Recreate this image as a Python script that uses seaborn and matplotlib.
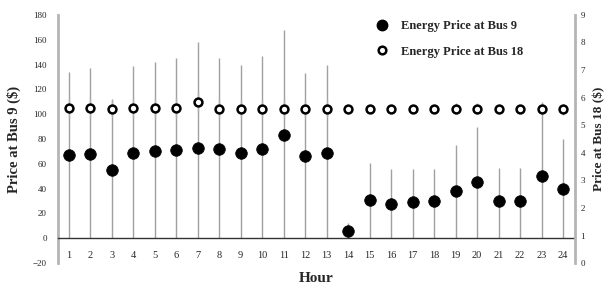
import pandas as pd
import seaborn as sns
import matplotlib.pyplot as plt

horas = list(range(1, 25))
preco_bus9 = [67, 68, 55, 69, 70, 71, 73, 72, 69, 72, 83, 66,
              69, 6, 31, 28, 29, 30, 38, 45, 30, 30, 50, 40]
erro_bus9 = [67, 69, 57, 70, 72, 74, 85, 73, 71, 75, 85, 67,
             71, 6, 30, 28, 27, 26, 37, 45, 27, 27, 60, 40]
preco_bus18 = [5.62, 5.62, 5.60, 5.62, 5.62, 5.62, 5.85, 5.60, 5.60, 5.60, 5.60, 5.60,
               5.60, 5.58, 5.58, 5.58, 5.58, 5.58, 5.60, 5.60, 5.58, 5.58, 5.60, 5.58]
erro_bus18 = [0.35, 0.35, 0.3, 0.35, 0.35, 0.35, 0.4, 0.35, 0.3, 0.3, 0.35, 0.3,
              0.3, 0.1, 0.1, 0.1, 0.1, 0.1, 0.2, 0.2, 0.1, 0.1, 0.2, 0.2]

df = pd.DataFrame({"Hora": horas, "Bus9": preco_bus9, "Bus18": preco_bus18})

sns.set_style("white")
plt.rcParams["font.family"] = ["Liberation Serif", "DejaVu Serif"]

fig = plt.figure(figsize=(6.06, 2.86), dpi=100)
ax = fig.add_axes([0.0957, 0.080, 0.853, 0.868])
ax2 = ax.twinx()

# barras de erro
ax.errorbar(horas, preco_bus9, yerr=[preco_bus9, erro_bus9], fmt="none",
            ecolor="#a0a0a0", elinewidth=1.0, capsize=0, zorder=1)
ax2.errorbar(horas, preco_bus18, yerr=erro_bus18, fmt="none",
             ecolor="#b0b0b0", elinewidth=1.0, capsize=0, zorder=1)

sns.scatterplot(data=df, x="Hora", y="Bus9", ax=ax, color="black", s=70,
                edgecolor="black", linewidth=0.5, zorder=3, legend=False)
sns.scatterplot(data=df, x="Hora", y="Bus18", ax=ax2, color="white", s=32,
                edgecolor="black", linewidth=1.8, zorder=3, legend=False)

ax.set_xlim(0.5, 24.55)
ax.set_ylim(-20, 180)
ax2.set_ylim(0, 9)
ax.set_xticks(horas)
ax.set_yticks(range(-20, 181, 20))
ax2.set_yticks(range(0, 10))

for a in (ax, ax2):
    for s in a.spines.values():
        s.set_visible(False)
ax.spines["left"].set_visible(True)
ax.spines["left"].set_color("#b5b5b5")
ax.spines["left"].set_linewidth(2)
ax2.spines["right"].set_visible(True)
ax2.spines["right"].set_color("#b5b5b5")
ax2.spines["right"].set_linewidth(2)
ax.spines["bottom"].set_visible(True)
ax.spines["bottom"].set_position(("data", 0))
ax.spines["bottom"].set_color("#333333")
ax.spines["bottom"].set_linewidth(1)

ax.tick_params(axis="x", length=0, pad=9, labelsize=7.5)
ax.tick_params(axis="y", length=0, pad=8, labelsize=6.5)
ax2.tick_params(axis="y", length=0, pad=4, labelsize=6.5)

ax.set_xlabel("Hour", fontsize=11, fontweight="bold", va="center")
ax.xaxis.set_label_coords(0.5, -0.062)
ax.set_ylabel("Price at Bus 9 ($)", fontsize=10.5, fontweight="bold", va="center")
ax.yaxis.set_label_coords(-0.085, 0.5)
ax2.set_ylabel("Price at Bus 18 ($)", fontsize=9.5, fontweight="bold", va="center")
ax2.yaxis.set_label_coords(1.046, 0.5)

h1 = plt.Line2D([], [], marker="o", ls="none", color="black", markersize=7.5)
h2 = plt.Line2D([], [], marker="o", ls="none", mfc="white", mec="black",
                mew=1.8, markersize=5.5)
leg = ax.legend([h1, h2], ["Energy Price at Bus 9", "Energy Price at Bus 18"],
                loc="upper left", bbox_to_anchor=(0.595, 1.02), frameon=False,
                prop={"weight": "bold", "size": 9}, labelspacing=1.1,
                handletextpad=1.0, handlelength=1.0, borderpad=0.3)

fig.savefig("out.png", dpi=100)
